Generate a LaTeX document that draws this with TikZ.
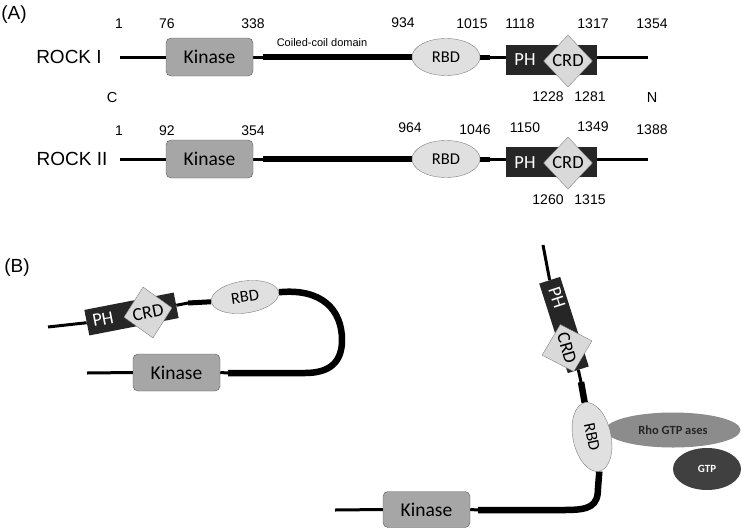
\documentclass[tikz,border=0pt]{standalone}
\usepackage{fontspec}
\usetikzlibrary{shapes.geometric,backgrounds}
\newfontfamily\arialf{Liberation Sans}
\newfontfamily\calib{Carlito}
\definecolor{kinfill}{HTML}{A6A6A6}
\definecolor{kinborder}{HTML}{5A5A5A}
\definecolor{rbdfill}{HTML}{E0E0E0}
\definecolor{rbdborder}{HTML}{7F7F7F}
\definecolor{phfill}{HTML}{262626}
\definecolor{crdfill}{HTML}{D9D9D9}
\definecolor{rhofill}{HTML}{8C8C8C}
\definecolor{gtpfill}{HTML}{404040}
\tikzset{
  lbl/.style={font=\arialf\fontsize{14}{16}\selectfont, inner sep=0pt},
  big/.style={font=\arialf\fontsize{19}{21}\selectfont, inner sep=0pt},
  kin/.style={draw=kinborder, fill=kinfill, rounded corners=5pt, minimum width=87pt, minimum height=38pt, inner sep=0pt, font=\calib\fontsize{19.5}{21}\selectfont},
  rbd/.style={ellipse, draw=rbdborder, fill=rbdfill, minimum width=68pt, minimum height=37pt, inner sep=0pt, font=\calib\fontsize{16.5}{18}\selectfont},
  phbox/.style={fill=phfill, minimum width=91pt, minimum height=30pt, inner sep=0pt},
  phtext/.style={text=white, inner sep=0pt, font=\calib\fontsize{18.5}{20}\selectfont},
  crd/.style={diamond, draw=rbdborder, fill=crdfill, minimum width=49pt, minimum height=52pt, inner sep=0pt, font=\calib\fontsize{18.5}{20}\selectfont},
  thinln/.style={line width=3pt},
  thickln/.style={line width=6.5pt},
}
\begin{document}
\begin{tikzpicture}[x=1pt,y=-1pt]
\useasboundingbox (0,0) rectangle (742,528);

% ---------- (A) ----------
\node[big] (labA) at (14,15) {(A)};
\node[big] (rock1) at (69,57) {ROCK I};
\node[big] (rock2) at (72,159) {ROCK II};
\node[lbl,font=\arialf\fontsize{14.5}{16}\selectfont] (cterm) at (112,98) {C};
\node[lbl,font=\arialf\fontsize{14.5}{16}\selectfont] (nterm) at (652,98) {N};
\node[lbl,font=\arialf\fontsize{11}{13}\selectfont] (coil) at (322,43) {Coiled-coil domain};

% row 1
\coordinate (s1) at (120,57);
\coordinate (t1) at (263,57);
\coordinate (u1) at (490,57);
\coordinate (e1) at (648,57);
\node[kin] (kin1) at (209.5,57) {Kinase};
\node[rbd] (rbd1) at (446,57) {RBD};
\node[phbox] (ph1) at (551.5,60) {};
\node[phtext] (pht1) at (525,60) {PH};
\node[crd] (crd1) at (568,61) {CRD};
\begin{scope}[on background layer]
\draw[thinln] (s1) -- (kin1.west);
\draw[thinln] (kin1.east) -- (t1);
\draw[thickln] (t1) -- (rbd1.west);
\draw[line width=5pt] (rbd1.east) -- (u1);
\draw[thinln] (u1) -- (ph1.west |- u1);
\draw[thinln] (ph1.east |- e1) -- (e1);
\end{scope}
\node[lbl] (a1) at (119,24) {1};
\node[lbl] (a76) at (167,24) {76};
\node[lbl] (a338) at (253,24) {338};
\node[lbl] (a934) at (403,23) {934};
\node[lbl] (a1015) at (472,24) {1015};
\node[lbl] (a1118) at (520,24) {1118};
\node[lbl] (a1317) at (593,24) {1317};
\node[lbl] (a1354) at (652,24) {1354};
\node[lbl] (a1228) at (548,97) {1228};
\node[lbl] (a1281) at (590,97) {1281};

% row 2
\coordinate (s2) at (120,159);
\coordinate (t2) at (263,159);
\coordinate (u2) at (490,159);
\coordinate (e2) at (648,159);
\node[kin] (kin2) at (209.5,159) {Kinase};
\node[rbd] (rbd2) at (446,159) {RBD};
\node[phbox] (ph2) at (551.5,162) {};
\node[phtext] (pht2) at (525,163) {PH};
\node[crd] (crd2) at (568,163) {CRD};
\begin{scope}[on background layer]
\draw[thinln] (s2) -- (kin2.west);
\draw[thinln] (kin2.east) -- (t2);
\draw[thickln] (t2) -- (rbd2.west);
\draw[line width=5pt] (rbd2.east) -- (u2);
\draw[thinln] (u2) -- (ph2.west |- u2);
\draw[thinln] (ph2.east |- e2) -- (e2);
\end{scope}
\node[lbl] (b1) at (119,131) {1};
\node[lbl] (b92) at (167,131) {92};
\node[lbl] (b354) at (253,131) {354};
\node[lbl] (b964) at (410,128) {964};
\node[lbl] (b1046) at (475,130) {1046};
\node[lbl] (b1150) at (525,128) {1150};
\node[lbl] (b1349) at (593,127) {1349};
\node[lbl] (b1388) at (652,130) {1388};
\node[lbl] (b1260) at (548,200) {1260};
\node[lbl] (b1315) at (590,200) {1315};

% ---------- (B) ----------
\node[big] (labB) at (17,268) {(B)};

% left, folded
\coordinate (sB1) at (48,327);
\coordinate (tB1) at (188,303);
\coordinate (kB1) at (228,373);
\coordinate (sK1) at (87,373);
\node[phbox, rotate=11, minimum height=26pt] (phB1) at (131.5,314) {};
\node[phtext, rotate=11] (phtB1) at (103,319) {PH};
\node[crd, rotate=11] (crdB1) at (148,312.5) {CRD};
\node[rbd, rotate=8, minimum height=32pt] (rbdB1) at (245,297) {RBD};
\node[kin, minimum height=37pt] (kinB1) at (176.5,372.5) {Kinase};
\begin{scope}[on background layer]
\draw[thinln] (sB1) -- (phB1.west);
\draw[thinln] (phB1.east) -- (tB1);
\draw[line width=5pt] (tB1) -- (rbdB1.west);
\draw[thickln] (rbdB1.east) .. controls (322,288) and (342,310) .. (342,340)
   .. controls (342,362) and (330,373) .. (305,373) -- (kB1);
\draw[thinln] (kB1) -- (kinB1.east);
\draw[thinln] (sK1) -- (kinB1.west);
\end{scope}

% right, open
\coordinate (sB2) at (543,245);
\coordinate (tB2) at (581,382);
\coordinate (kB2) at (478,510);
\coordinate (sK2) at (335,510);
\node[phbox, rotate=-72.3, minimum width=94pt, minimum height=22pt] (phB2) at (564,325) {};
\node[phtext, rotate=-72] (phtB2) at (557,298) {PH};
\node[crd, rotate=-74] (crdB2) at (567,348) {CRD};
\node[ellipse, fill=rhofill, minimum width=135pt, minimum height=35pt, inner sep=0pt, text=phfill, font=\calib\bfseries\fontsize{12.5}{14}\selectfont] (rho) at (673,430) {Rho GTP ases};
\node[ellipse, fill=gtpfill, minimum width=68pt, minimum height=42pt, inner sep=0pt, text=white, font=\calib\bfseries\fontsize{11}{13}\selectfont] (gtp) at (707,469) {GTP};
\node[rbd, rotate=-78, minimum width=70pt, minimum height=38pt] (rbdB2) at (592,437) {RBD};
\node[kin, minimum height=36pt] (kinB2) at (426.5,509.5) {Kinase};
\begin{scope}[on background layer]
\draw[thinln] (sB2) -- (phB2.west);
\draw[thinln] (phB2.east) -- (tB2);
\draw[thickln] (tB2) -- (rbdB2.west);
\draw[thickln] (rbdB2.east) -- (598,488) .. controls (598,506) and (590,510) .. (565,510) -- (kB2);
\draw[thinln] (kB2) -- (kinB2.east);
\draw[thinln] (sK2) -- (kinB2.west);
\end{scope}
\end{tikzpicture}
\end{document}
